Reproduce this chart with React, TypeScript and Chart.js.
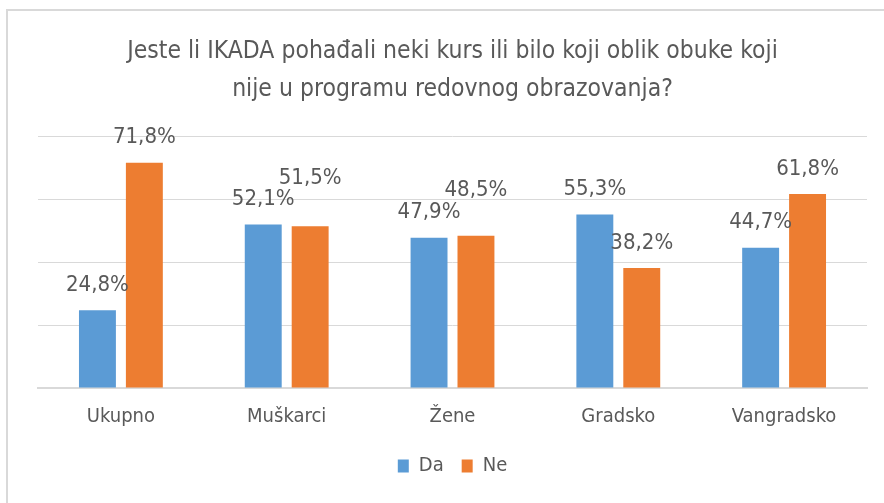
import React, { useEffect, useRef } from "react";
import { Chart, registerables } from "chart.js";

Chart.register(...registerables);

const titleLines = [
  "Jeste li IKADA pohađali neki kurs ili bilo koji oblik obuke koji",
  "nije u programu redovnog obrazovanja?",
];
const categories = ["Ukupno", "Muškarci", "Žene", "Gradsko", "Vangradsko"];
const seriesNames = ["Da", "Ne"];
const daValues = [24.8, 52.1, 47.9, 55.3, 44.7];
const neValues = [71.8, 51.5, 48.5, 38.2, 61.8];
const yTicks = [0, 20, 40, 60, 80];

const FONT = "'Liberation Sans Narrow', 'DejaVu Sans Condensed', 'Roboto', sans-serif";
const TEXT = "#595959";
const BLUE = "#5B9BD5";
const ORANGE = "#ED7D31";
const GRID = "#d9d9d9";

const fmt = (v: number) => v.toFixed(1).replace(".", ",") + "%";

const labelPlugin = {
  id: "barLabels",
  afterDatasetsDraw(chart: any) {
    const ctx = chart.ctx;
    ctx.save();
    ctx.font = `22px ${FONT}`;
    ctx.fillStyle = TEXT;
    ctx.textAlign = "center";
    ctx.textBaseline = "middle";
    const m0 = chart.getDatasetMeta(0);
    const m1 = chart.getDatasetMeta(1);
    const d0 = chart.data.datasets[0].data as number[];
    const d1 = chart.data.datasets[1].data as number[];
    for (let i = 0; i < d0.length; i++) {
      const b0 = m0.data[i];
      const b1 = m1.data[i];
      const y0 = b0.y - 25;
      let y1 = b1.y - 25;
      if (Math.abs(y1 - y0) < 20) y1 = Math.min(y0, y1) - 21;
      ctx.fillText(fmt(d0[i]), b0.x, y0);
      ctx.fillText(fmt(d1[i]), b1.x, y1);
    }
    ctx.restore();
  },
};

export default function App() {
  const ref = useRef<HTMLCanvasElement | null>(null);
  useEffect(() => {
    if (!ref.current) return;
    const chart = new Chart(ref.current, {
      type: "bar",
      data: {
        labels: categories,
        datasets: [
          { label: seriesNames[0], data: daValues, backgroundColor: BLUE, categoryPercentage: 0.566, barPercentage: 0.787 },
          { label: seriesNames[1], data: neValues, backgroundColor: ORANGE, categoryPercentage: 0.566, barPercentage: 0.787 },
        ],
      },
      options: {
        animation: false,
        responsive: false,
        maintainAspectRatio: false,
        layout: { padding: { left: 38, right: 17, top: 0, bottom: 17 } },
        plugins: {
          title: {
            display: true,
            text: titleLines,
            color: TEXT,
            font: { family: FONT, size: 24.5, weight: "normal", lineHeight: 1.57 },
            padding: { top: 32, bottom: 28 },
          },
          legend: {
            display: true,
            position: "bottom",
            labels: {
              color: TEXT,
              font: { family: FONT, size: 20 },
              boxWidth: 11,
              boxHeight: 13,
              padding: 18,
            },
          },
          tooltip: { enabled: false },
        },
        scales: {
          x: {
            grid: { display: false },
            border: { display: true, color: GRID, width: 2 },
            ticks: { color: TEXT, font: { family: FONT, size: 20 }, padding: 9 },
          },
          y: {
            min: yTicks[0],
            max: yTicks[yTicks.length - 1],
            afterBuildTicks: (scale: any) => {
              scale.ticks = yTicks.map((v) => ({ value: v }));
            },
            grid: { color: GRID, lineWidth: 1, drawTicks: false },
            border: { display: false },
            ticks: { display: false },
          },
        },
      },
      plugins: [labelPlugin],
    });
    return () => chart.destroy();
  }, []);
  return (
    <div style={{ position: "fixed", left: 0, top: 0, width: 884, height: 503, background: "#fff", overflow: "hidden" }}>
      <div style={{ position: "absolute", left: 6, top: 9, width: 900, height: 520, border: `2px solid ${GRID}`, boxSizing: "border-box" }} />
      <canvas ref={ref} width={884} height={503} style={{ position: "absolute", left: 0, top: 0 }} />
    </div>
  );
}
